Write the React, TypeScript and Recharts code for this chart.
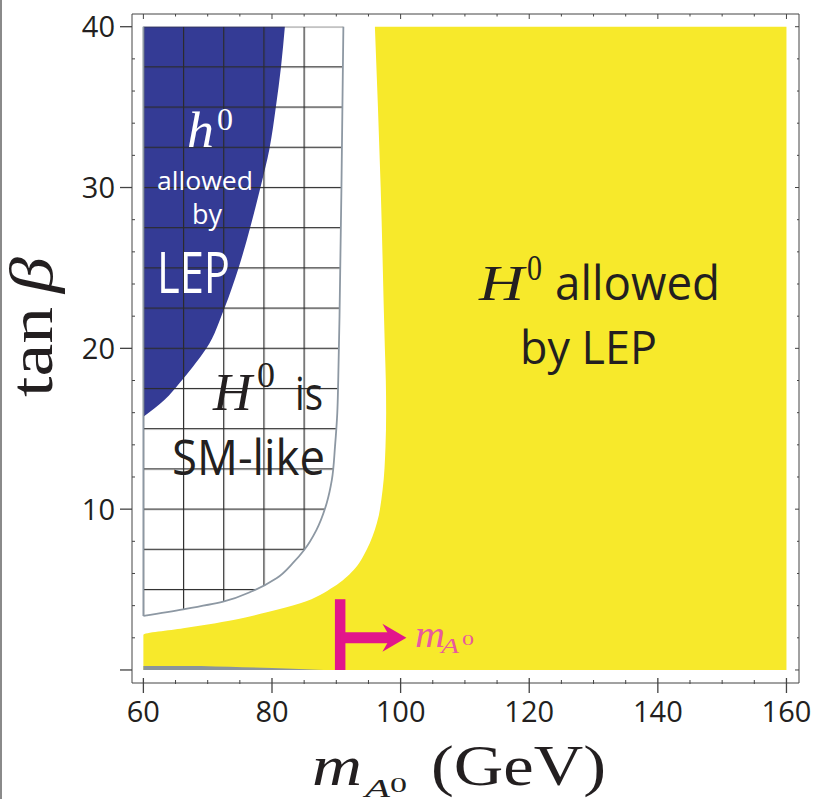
import React from 'react';
import { ComposedChart, Area, XAxis, YAxis, ReferenceLine } from 'recharts';

// boundaries: y = tan(beta), x = m_A0 in GeV, listed top to bottom
const yellowY = [40, 30, 20, 18, 16, 13.9, 11.2, 9.12, 7.46, 6.22, 5.18, 4.15, 3.59, 3.11, 2.59, 2.18, 0];
const yellowX = [96.0, 96.9, 97.55, 97.7, 97.75, 97.65, 97.2, 96.3, 94.7, 92.7, 89.6, 84.4, 79.2, 74.0, 66.2, 60, 60];

const hatchY = [40, 30, 22, 18.03, 15.96, 13.9, 11.8, 10.37, 8.7, 7.46, 6.67, 5.7, 4.93, 4.25, 3.77, 3.36];
const hatchX = [91.1, 90.8, 90.5, 90.3, 90.15, 89.8, 89.3, 88.5, 86.9, 85.0, 83.3, 80.7, 77.1, 72.4, 66.2, 60];

const blueY = [40, 37.5, 35, 32.4, 30, 27.5, 25, 22.5, 20, 18.86, 17.83, 16.8, 15.75];
const blueX = [82.0, 81.4, 80.6, 79.6, 78.2, 76.6, 74.8, 72.6, 69.8, 67.7, 65.6, 63.3, 60];

const slabY = [0.25, 0.12, 0];
const slabX = [69, 80, 88];

// m_A0 marker
const markerX = 90.6;
const markerTop = 4.4;
const arrowY = 2.0;
const arrowTip = 100.9;

const xTicks = [60, 65, 70, 75, 80, 85, 90, 95, 100, 105, 110, 115, 120, 125, 130, 135, 140, 145, 150, 155, 160];
const xMajor = [60, 80, 100, 120, 140, 160];
const yTicks = [0, 2, 4, 6, 8, 10, 12, 14, 16, 18, 20, 22, 24, 26, 28, 30, 32, 34, 36, 38, 40];
const yMajor = [0, 10, 20, 30, 40];
const yLabeled = [10, 20, 30, 40];

const X_MIN = 60;
const X_MAX = 160;
const X_DOMAIN: [number, number] = [58.23, 161.95];
const Y_DOMAIN: [number, number] = [-0.81, 40.79];
const HATCH_DX = 6.25;
const HATCH_DY = 2.5;

const W = 817;
const H = 799;
const PLOT = { left: 132, top: 14, right: 799, bottom: 683 };

const YELLOW = '#f7e92b';
const BLUE = '#343b95';
const MAGENTA = '#e2168b';
const PINK = '#e85a9e';
const FRAME = '#444';
const INK = '#231f20';
const SANS = "'Open Sans', sans-serif";
const SERIF = "'Liberation Serif', serif";

const yellowData = yellowY.map((y, i) => ({ y, x: [yellowX[i], X_MAX] }));
const hatchData = hatchY.map((y, i) => ({ y, x: [X_MIN, hatchX[i]] }));
const blueData = blueY.map((y, i) => ({ y, x: [X_MIN, blueX[i]] }));
const slabData = slabY.map((y, i) => ({ y, x: [X_MIN, slabX[i]] }));

const pxX = (PLOT.right - PLOT.left) / (X_DOMAIN[1] - X_DOMAIN[0]);
const pxY = (PLOT.bottom - PLOT.top) / (Y_DOMAIN[1] - Y_DOMAIN[0]);
const cellW = HATCH_DX * pxX;
const cellH = HATCH_DY * pxY;
const gridX0 = PLOT.left + (X_MIN - X_DOMAIN[0]) * pxX - 0.6;
const gridY0 = PLOT.top + (Y_DOMAIN[1] - 40) * pxY - 0.6;

const BottomTick = ({ x, y, payload }: any) => {
  const v = payload.value;
  const major = xMajor.includes(v);
  return (
    <g>
      <line x1={x} x2={x} y1={major ? y - 5 : y - 3} y2={major ? y + 10 : y + 1} stroke={FRAME} strokeWidth={major ? 1.3 : 1} />
      {major && (
        <text x={x} y={y + 39} textAnchor="middle" fontFamily={SANS} fontSize={29} fill={INK}>{v}</text>
      )}
    </g>
  );
};

const TopTick = ({ x, y, payload }: any) => {
  const major = xMajor.includes(payload.value);
  return <line x1={x} x2={x} y1={y} y2={y + (major ? 5 : 2.5)} stroke={FRAME} strokeWidth={1} />;
};

const LeftTick = ({ x, y, payload }: any) => {
  const v = payload.value;
  const major = yMajor.includes(v);
  return (
    <g>
      {major
        ? <line x1={x - 12} x2={x} y1={y} y2={y} stroke={FRAME} strokeWidth={1.3} />
        : <line x1={x} x2={x + 3} y1={y} y2={y} stroke={FRAME} strokeWidth={1} />}
      {yLabeled.includes(v) && (
        <text x={x - 17} y={y + 10.5} textAnchor="end" fontFamily={SANS} fontSize={29} fill={INK}>{v}</text>
      )}
    </g>
  );
};

const RightTick = ({ x, y, payload }: any) => {
  const major = yMajor.includes(payload.value);
  return <line x1={x - (major ? 4 : 2)} x2={x} y1={y} y2={y} stroke={FRAME} strokeWidth={1} />;
};

const ArrowShape = (p: any) => {
  const { x1, y1, x2, y2 } = p;
  return (
    <g>
      <line x1={x1} x2={x2 - 15} y1={y1} y2={y2} stroke={MAGENTA} strokeWidth={11} />
      <polygon points={`${x2},${y2} ${x2 - 24},${y2 - 14} ${x2 - 16},${y2} ${x2 - 24},${y2 + 14}`} fill={MAGENTA} />
    </g>
  );
};

const Label = ({ w, children, ...rest }: any) => (
  <text textLength={w} lengthAdjust="spacingAndGlyphs" {...rest}>{children}</text>
);

const App = () => {
  return (
    <div style={{ position: 'absolute', left: 0, top: 0, width: W, height: H, background: '#fff' }}>
      <ComposedChart
        width={W}
        height={H}
        layout="vertical"
        margin={{ top: PLOT.top - 1, right: W - PLOT.right - 1, bottom: 0, left: 0 }}
      >
        <defs>
          <pattern id="hatch" patternUnits="userSpaceOnUse" x={gridX0} y={gridY0} width={cellW} height={cellH}>
            <rect x={0} y={0} width={cellW} height={1.2} fill="#2b2b2b" />
            <rect x={0} y={0} width={1.2} height={cellH} fill="#2b2b2b" />
          </pattern>
        </defs>
        <XAxis
          xAxisId="b"
          type="number"
          orientation="bottom"
          domain={X_DOMAIN}
          allowDataOverflow
          ticks={xTicks}
          interval={0}
          height={H - PLOT.bottom}
          tickSize={0}
          tickMargin={0}
          tickLine={false}
          tick={BottomTick}
          axisLine={{ stroke: FRAME, strokeWidth: 1 }}
        />
        <XAxis
          xAxisId="t"
          type="number"
          orientation="top"
          domain={X_DOMAIN}
          allowDataOverflow
          ticks={xTicks}
          interval={0}
          height={1}
          tickSize={0}
          tickMargin={0}
          tickLine={false}
          tick={TopTick}
          axisLine={{ stroke: FRAME, strokeWidth: 1 }}
        />
        <YAxis
          yAxisId="l"
          type="number"
          dataKey="y"
          orientation="left"
          reversed
          domain={Y_DOMAIN}
          allowDataOverflow
          ticks={yTicks}
          interval={0}
          width={PLOT.left}
          tickSize={0}
          tickMargin={0}
          tickLine={false}
          tick={LeftTick}
          axisLine={{ stroke: FRAME, strokeWidth: 1 }}
        />
        <YAxis
          yAxisId="r"
          type="number"
          dataKey="y"
          orientation="right"
          reversed
          domain={Y_DOMAIN}
          allowDataOverflow
          ticks={yTicks}
          interval={0}
          width={1}
          tickSize={0}
          tickMargin={0}
          tickLine={false}
          tick={RightTick}
          axisLine={{ stroke: FRAME, strokeWidth: 1 }}
        />

        <Area xAxisId="b" yAxisId="l" data={yellowData} dataKey="x" type="monotone"
          stroke="none" fill={YELLOW} fillOpacity={1} dot={false} activeDot={false} isAnimationActive={false} />
        <Area xAxisId="b" yAxisId="l" data={blueData} dataKey="x" type="monotone"
          stroke="none" fill={BLUE} fillOpacity={1} dot={false} activeDot={false} isAnimationActive={false} />
        <Area xAxisId="b" yAxisId="l" data={hatchData} dataKey="x" type="monotone"
          stroke="#8d98a3" strokeWidth={1.8} fill="url(#hatch)" fillOpacity={1} dot={false} activeDot={false} isAnimationActive={false} />
        <Area xAxisId="b" yAxisId="l" data={slabData} dataKey="x" type="monotone"
          stroke="none" fill="#8a949c" fillOpacity={1} dot={false} activeDot={false} isAnimationActive={false} />

        <ReferenceLine xAxisId="b" yAxisId="l"
          segment={[{ x: markerX, y: 0 }, { x: markerX, y: markerTop }]}
          stroke={MAGENTA} strokeWidth={10.5} />
        <ReferenceLine xAxisId="b" yAxisId="l"
          segment={[{ x: markerX, y: arrowY }, { x: arrowTip, y: arrowY }]}
          shape={ArrowShape} />
      </ComposedChart>

      <svg width={W} height={H} style={{ position: 'absolute', left: 0, top: 0, pointerEvents: 'none' }}>
        <line x1={1} x2={1} y1={0} y2={H} stroke="#8a8a8a" strokeWidth={2} />

        {/* h0 allowed by LEP */}
        <Label x={187} y={147} w={27} fontFamily={SERIF} fontStyle="italic" fontSize={50} fill="#fff">h</Label>
        <Label x={217} y={130} w={16} fontFamily={SERIF} fontSize={32} fill="#fff">0</Label>
        <Label x={157} y={190} w={96} fontFamily={SANS} fontSize={26} fill="#fff">allowed</Label>
        <Label x={192} y={224} w={30} fontFamily={SANS} fontSize={27} fill="#fff">by</Label>
        <Label x={157} y={293} w={73} fontFamily={SANS} fontSize={56} fill="#fff">LEP</Label>

        {/* H0 is SM-like */}
        <Label x={213} y={410} w={39} fontFamily={SERIF} fontStyle="italic" fontSize={52} fill={INK}>H</Label>
        <Label x={257} y={387} w={18} fontFamily={SERIF} fontSize={35} fill={INK}>0</Label>
        <Label x={295} y={410} w={28} fontFamily={SANS} fontSize={46} fill={INK}>is</Label>
        <Label x={172} y={475} w={153} fontFamily={SANS} fontSize={50} fill={INK}>SM-like</Label>

        {/* H0 allowed by LEP */}
        <Label x={479} y={300} w={45} fontFamily={SERIF} fontStyle="italic" fontSize={50} fill={INK}>H</Label>
        <Label x={527} y={280} w={15} fontFamily={SERIF} fontSize={36} fill={INK}>0</Label>
        <Label x={555} y={300} w={165} fontFamily={SANS} fontSize={48} fill={INK}>allowed</Label>
        <Label x={520} y={364} w={137} fontFamily={SANS} fontSize={46} fill={INK}>by LEP</Label>

        {/* marker label */}
        <Label x={415} y={647} w={30} fontFamily={SERIF} fontStyle="italic" fontSize={37} fill={PINK}>m</Label>
        <Label x={441} y={653} w={18} fontFamily={SERIF} fontStyle="italic" fontSize={20} fill={PINK}>A</Label>
        <Label x={462} y={645} w={12} fontFamily={SERIF} fontSize={15} fill={PINK}>0</Label>

        {/* axis titles */}
        <g transform="translate(52,397) rotate(-90)">
          <Label x={0} y={0} w={90} fontFamily={SERIF} fontSize={62} fill={INK}>tan</Label>
          <Label x={104} y={0} w={36} fontFamily={SERIF} fontStyle="italic" fontSize={62} fill={INK}>β</Label>
        </g>
        <Label x={312} y={785} w={50} fontFamily={SERIF} fontStyle="italic" fontSize={56} fill={INK}>m</Label>
        <Label x={365} y={797} w={25} fontFamily={SERIF} fontStyle="italic" fontSize={26} fill={INK}>A</Label>
        <Label x={390} y={792} w={17} fontFamily={SERIF} fontSize={22} fill={INK}>0</Label>
        <Label x={431} y={785} w={175} fontFamily={SERIF} fontSize={56} fill={INK}>(GeV)</Label>
      </svg>
    </div>
  );
};

export default App;
